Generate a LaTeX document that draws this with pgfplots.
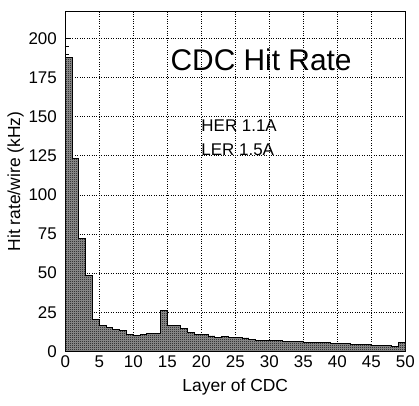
\documentclass[border=0pt]{standalone}
\usepackage{fontspec}
\setmainfont{Liberation Sans}
\usepackage{pgfplots}
\pgfplotsset{compat=1.18}
\usetikzlibrary{patterns}
\pgfdeclarepatternformonly{checker}{\pgfpointorigin}{\pgfqpoint{2bp}{2bp}}{\pgfqpoint{2bp}{2bp}}{%
  \pgfpathrectangle{\pgfpointorigin}{\pgfqpoint{1bp}{1bp}}%
  \pgfpathrectangle{\pgfqpoint{1bp}{1bp}}{\pgfqpoint{1bp}{1bp}}%
  \pgfusepath{fill}}
\begin{document}
\begin{tikzpicture}
\begin{axis}[
  scale only axis,
  width=340bp, height=339.6bp,
  xmin=0, xmax=50, ymin=0, ymax=217,
  xtick={0,5,...,50}, ytick={0,25,...,200},
  minor y tick num=4,
  tick align=inside,
  xtick pos=bottom, ytick pos=left,
  major tick length=6bp, minor tick length=3.5bp,
  grid=major,
  major grid style={black, dotted, line width=0.6pt},
  axis line style={line width=1pt},
  every tick/.style={black, line width=0.8pt},
  /pgf/number format/assume math mode=true,
  ticklabel style={font=\fontsize{17}{19}\selectfont},
  yticklabel style={xshift=-5bp},
  xticklabel style={yshift=-1bp},
  xlabel={Layer of CDC},
  ylabel={Hit rate/wire (kHz)},
  label style={font=\fontsize{17.5}{20}\selectfont},
  xlabel style={yshift=-4bp},
  ylabel style={yshift=-2bp},
]
\addplot[const plot, draw=black, line width=0.9pt, fill=black!40,
  postaction={pattern=checker, pattern color=black}] coordinates {
(0,188) (1,123.5) (2,72) (3,48.3) (4,20.4) (5,16.2) (6,15.3) (7,14) (8,13.6) (9,10.6)
(10,10.2) (11,10.9) (12,11.3) (13,11.3) (14,26) (15,16.2) (16,16.8) (17,14.5) (18,12) (19,10.9)
(20,10.6) (21,9.8) (22,8.7) (23,9.2) (24,9) (25,8.7) (26,8.5) (27,7.7) (28,7.2) (29,7.2)
(30,7.2) (31,6.8) (32,6.2) (33,6.2) (34,6) (35,5.8) (36,5.8) (37,5.8) (38,5.4) (39,4.8)
(40,4.8) (41,4.8) (42,4.4) (43,4.4) (44,4.4) (45,4.0) (46,4.0) (47,3.7) (48,3.2) (49,5.6)
(50,5.6)} \closedcycle;
\node[font=\fontsize{30}{33}\selectfont] at (axis cs:28.8,186) {CDC Hit Rate};
\node[anchor=west, font=\fontsize{17}{19}\selectfont, inner sep=0pt] at (axis cs:20.0,144) {HER 1.1A};
\node[anchor=west, font=\fontsize{17}{19}\selectfont, inner sep=0pt] at (axis cs:20.0,128.5) {LER 1.5A};
\end{axis}
\pgfresetboundingbox
\path[use as bounding box] ([shift={(-65.3bp,-54.7bp)}]current axis.south west) rectangle ([shift={(13.7bp,11.7bp)}]current axis.north east);
\end{tikzpicture}
\end{document}
